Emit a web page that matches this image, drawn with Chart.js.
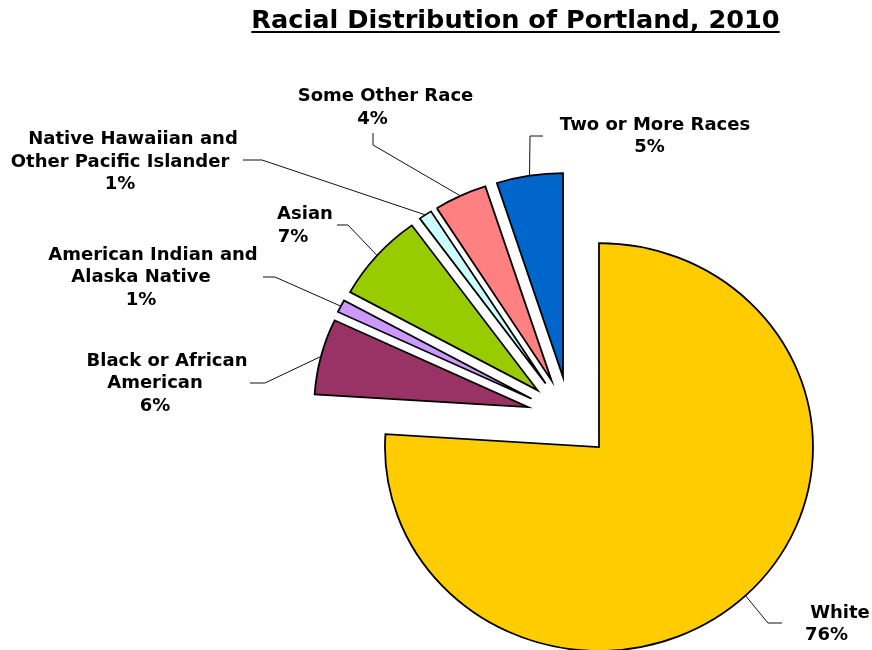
<!DOCTYPE html>
<html>
<head>
<meta charset="utf-8">
<title>Racial Distribution of Portland, 2010</title>
<script src="https://cdn.jsdelivr.net/npm/chart.js@4/dist/chart.umd.min.js"></script>
<style>
  html, body { margin: 0; padding: 0; background: #ffffff; }
  canvas { display: block; }
</style>
</head>
<body>
<canvas id="chart" width="872" height="650"></canvas>
<script>
// Population shares by race, Portland 2010 (percent)
const categories = [
  'White',
  'Black or African American',
  'American Indian and Alaska Native',
  'Asian',
  'Native Hawaiian and Other Pacific Islander',
  'Some Other Race',
  'Two or More Races'
];
const shares = [76, 6, 1, 7, 1, 4, 5];

// Category names as they wrap in the slice labels
const labelLines = [
  ['White'],
  ['Black or African', 'American'],
  ['American Indian and', 'Alaska Native'],
  ['Asian'],
  ['Native Hawaiian and', 'Other Pacific Islander'],
  ['Some Other Race'],
  ['Two or More Races']
];

const sliceColors = ['#FFCC00', '#993366', '#CC99FF', '#99CC00', '#CCFFFF', '#FF8080', '#0066CC'];

// Label placement: centre of the first text line, shift of the following lines,
// and the leader-line points leading towards the slice
const labelLayout = [
  { x: 840,   y: 613,   shift: 13.5, leader: [[782, 623], [768, 623]] },
  { x: 167,   y: 361,   shift: 12,   leader: [[250, 383], [265, 383]] },
  { x: 153,   y: 255,   shift: 12,   leader: [[263, 277], [275, 277]] },
  { x: 305,   y: 214.5, shift: 12,   leader: [[337, 225], [348, 225]] },
  { x: 133,   y: 139.5, shift: 13,   leader: [[243, 160], [262, 160]] },
  { x: 385.5, y: 96.5,  shift: 13,   leader: [[373, 133], [373, 145]] },
  { x: 655,   y: 125,   shift: 5.5,  leader: [[543, 136], [530, 136]] }
];

const TITLE = 'Racial Distribution of Portland, 2010';
const FONT_FAMILY = '"DejaVu Sans", Verdana, sans-serif';
const EXPLODE = 42.8;      // distance each slice is pulled out from the centre
const Y_SCALE = 0.953;     // slight vertical squash of the pie
const LINE_HEIGHT = 22.5;

function explodedAnchor(arc) {
  const mid = (arc.startAngle + arc.endAngle) / 2;
  const d = EXPLODE + arc.outerRadius;
  return [arc.x + Math.cos(mid) * d, arc.y + Math.sin(mid) * d * Y_SCALE];
}

// Draws every slice pulled out along its own bisector, on a slightly squashed pie
const explodedPie = {
  id: 'explodedPie',
  beforeDatasetDraw(chart, args) {
    const ctx = chart.ctx;
    const arcs = args.meta.data;
    if (!arcs.length) return;
    const cx = arcs[0].x, cy = arcs[0].y;
    ctx.save();
    ctx.translate(cx, cy);
    ctx.scale(1, Y_SCALE);
    ctx.translate(-cx, -cy);
    arcs.forEach(arc => {
      const mid = (arc.startAngle + arc.endAngle) / 2;
      ctx.save();
      ctx.translate(Math.cos(mid) * EXPLODE, Math.sin(mid) * EXPLODE);
      arc.draw(ctx);
      ctx.restore();
    });
    ctx.restore();
    return false;
  }
};

// Category / percent labels with leader lines, plus the underlined title
const sliceLabels = {
  id: 'sliceLabels',
  afterDatasetsDraw(chart) {
    const ctx = chart.ctx;
    const meta = chart.getDatasetMeta(0);
    const values = chart.data.datasets[0].data;
    ctx.save();

    // leader lines
    ctx.strokeStyle = '#111111';
    ctx.lineWidth = 1;
    meta.data.forEach((arc, i) => {
      const pts = labelLayout[i].leader;
      const end = explodedAnchor(arc);
      ctx.beginPath();
      ctx.moveTo(pts[0][0], pts[0][1]);
      for (let k = 1; k < pts.length; k++) ctx.lineTo(pts[k][0], pts[k][1]);
      ctx.lineTo(end[0], end[1]);
      ctx.stroke();
    });

    // label text
    ctx.fillStyle = '#000000';
    ctx.font = 'bold 18px ' + FONT_FAMILY;
    ctx.textAlign = 'center';
    ctx.textBaseline = 'middle';
    meta.data.forEach((arc, i) => {
      const lay = labelLayout[i];
      const lines = labelLines[i].concat([values[i] + '%']);
      lines.forEach((line, k) => {
        const x = k === 0 ? lay.x : lay.x - lay.shift;
        ctx.fillText(line, x, lay.y + k * LINE_HEIGHT);
      });
    });

    // title
    ctx.font = 'bold 25.6px ' + FONT_FAMILY;
    ctx.textBaseline = 'alphabetic';
    const tx = 515.5, ty = 28;
    ctx.fillText(TITLE, tx, ty);
    const w = ctx.measureText(TITLE).width;
    ctx.fillRect(tx - w / 2, ty + 3, w, 2);

    ctx.restore();
  }
};

new Chart(document.getElementById('chart'), {
  type: 'pie',
  data: {
    labels: categories,
    datasets: [{
      data: shares,
      backgroundColor: sliceColors,
      borderColor: '#000000',
      borderWidth: 1.8,
      borderJoinStyle: 'miter',
      clip: false
    }]
  },
  options: {
    responsive: false,
    animation: false,
    events: [],
    radius: 214,
    layout: { padding: { left: 267.4, right: 0, top: 184.6, bottom: 0 } },
    plugins: {
      legend: { display: false },
      tooltip: { enabled: false },
      title: { display: false }
    }
  },
  plugins: [explodedPie, sliceLabels]
});
</script>
</body>
</html>
